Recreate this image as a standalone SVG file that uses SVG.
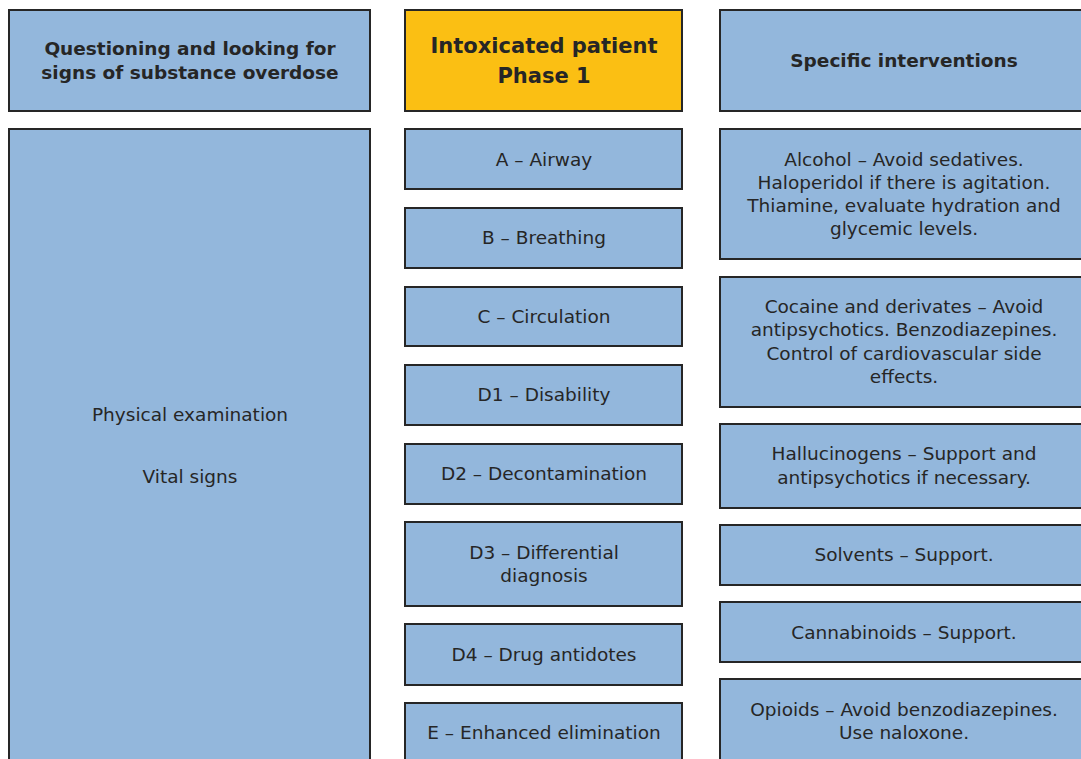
<svg xmlns="http://www.w3.org/2000/svg" width="1081" height="759" viewBox="0 0 1081 759">
<style>
.box{fill:#93b7dc;stroke:#262626;stroke-width:2}
.hl{fill:#fbbf13;stroke:#262626;stroke-width:2}
text{font-family:"DejaVu Sans",Verdana,sans-serif;font-size:18.5px;fill:#262626;text-anchor:middle}
.b{font-weight:bold}
.t{font-size:21px}
</style>
<rect width="1081" height="759" fill="#fff"/>
<g id="left-header"><rect class="box" x="9" y="10" width="361" height="101"/>
<text class="b" x="190" y="55">Questioning and looking for</text>
<text class="b" x="190" y="79">signs of substance overdose</text></g>
<g id="left-main"><rect class="box" x="9" y="129" width="361" height="640"/>
<text x="190" y="421">Physical examination</text>
<text x="190" y="483">Vital signs</text></g>
<g id="mid-header"><rect class="hl" x="405" y="10" width="277" height="101"/>
<text class="b t" x="544" y="53">Intoxicated patient</text>
<text class="b t" x="544" y="83">Phase 1</text></g>
<g id="n-a"><rect class="box" x="405" y="129" width="277" height="60"/><text x="544" y="166">A – Airway</text></g>
<g id="n-b"><rect class="box" x="405" y="208" width="277" height="60"/><text x="544" y="244">B – Breathing</text></g>
<g id="n-c"><rect class="box" x="405" y="287" width="277" height="59"/><text x="544" y="323">C – Circulation</text></g>
<g id="n-d1"><rect class="box" x="405" y="365" width="277" height="60"/><text x="544" y="401">D1 – Disability</text></g>
<g id="n-d2"><rect class="box" x="405" y="444" width="277" height="60"/><text x="544" y="480">D2 – Decontamination</text></g>
<g id="n-d3"><rect class="box" x="405" y="522" width="277" height="84"/><text x="544" y="559">D3 – Differential</text><text x="544" y="582">diagnosis</text></g>
<g id="n-d4"><rect class="box" x="405" y="624" width="277" height="61"/><text x="544" y="661">D4 – Drug antidotes</text></g>
<g id="n-e"><rect class="box" x="405" y="703" width="277" height="70"/><text x="544" y="739">E – Enhanced elimination</text></g>
<g id="right-header"><rect class="box" x="720" y="10" width="370" height="101"/>
<text class="b" x="904" y="67">Specific interventions</text></g>
<g id="r-alcohol"><rect class="box" x="720" y="129" width="370" height="130"/>
<text x="904" y="166">Alcohol – Avoid sedatives.</text>
<text x="904" y="189">Haloperidol if there is agitation.</text>
<text x="904" y="212">Thiamine, evaluate hydration and</text>
<text x="904" y="235">glycemic levels.</text></g>
<g id="r-cocaine"><rect class="box" x="720" y="277" width="370" height="130"/>
<text x="904" y="313">Cocaine and derivates – Avoid</text>
<text x="904" y="336">antipsychotics. Benzodiazepines.</text>
<text x="904" y="360">Control of cardiovascular side</text>
<text x="904" y="383">effects.</text></g>
<g id="r-halluc"><rect class="box" x="720" y="424" width="370" height="84"/>
<text x="904" y="460">Hallucinogens – Support and</text>
<text x="904" y="484">antipsychotics if necessary.</text></g>
<g id="r-solvents"><rect class="box" x="720" y="525" width="370" height="60"/>
<text x="904" y="561">Solvents – Support.</text></g>
<g id="r-cannab"><rect class="box" x="720" y="602" width="370" height="60"/>
<text x="904" y="639">Cannabinoids – Support.</text></g>
<g id="r-opioids"><rect class="box" x="720" y="679" width="370" height="90"/>
<text x="904" y="716">Opioids – Avoid benzodiazepines.</text>
<text x="904" y="739">Use naloxone.</text></g>
<g id="connectors"/>
</svg>
